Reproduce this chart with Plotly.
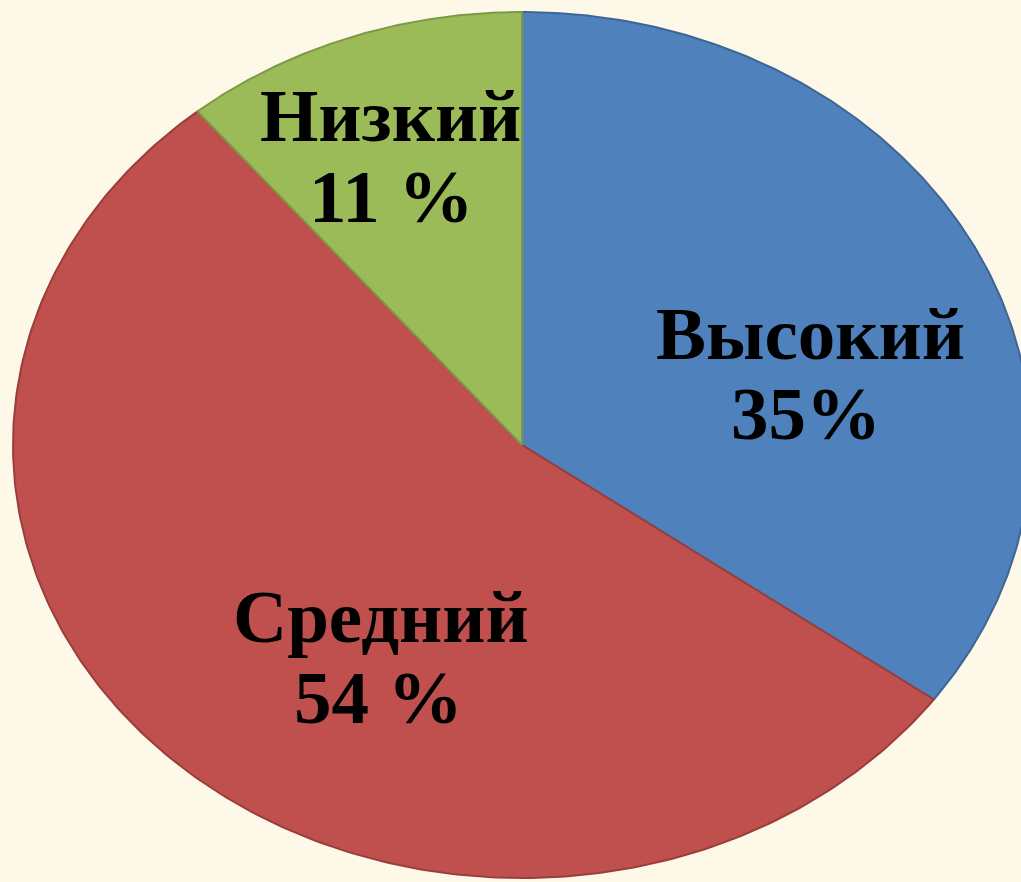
import numpy as np
import plotly.graph_objects as go

# Data
categories = ["Высокий", "Средний", "Низкий"]
values = [35, 54, 11]
value_labels = ["35%", "54 %", "11 %"]

# Styles
fill_colors = ["#4F81BD", "#C0504D", "#9BBB59"]
edge_colors = ["#3E6694", "#9A3E3B", "#7D9946"]
bg = "#FEF8E8"

W, H = 1021, 882
CX, CY, RX, RY = 522, 445, 509, 433  # pixel geometry of the (stretched) pie

fig = go.Figure()

total = float(sum(values))
start = 0.0
for cat, val, fc, ec in zip(categories, values, fill_colors, edge_colors):
    a0 = start / total * 2 * np.pi
    a1 = (start + val) / total * 2 * np.pi
    t = np.linspace(a0, a1, 240)
    xs = np.concatenate([[0.0], np.sin(t), [0.0]])
    ys = np.concatenate([[0.0], np.cos(t), [0.0]])
    fig.add_trace(go.Scatter(
        x=xs, y=ys, mode="lines", fill="toself", fillcolor=fc,
        line=dict(color=ec, width=2), name=cat, hoverinfo="name",
        showlegend=False,
    ))
    start += val

# label placement (pixel centers of each text line)
label_pos = {
    "Высокий": ((810, 333), (806, 413)),
    "Средний": ((381, 616), (378, 697)),
    "Низкий": ((390, 116), (391, 196)),
}
font = dict(family="Liberation Serif, Times New Roman, serif", size=75, color="black")
for cat, vl in zip(categories, value_labels):
    (p1, p2) = label_pos[cat]
    for txt, (px, py) in ((cat, p1), (vl, p2)):
        fig.add_annotation(
            x=px / W, y=1 - py / H, xref="paper", yref="paper",
            text="<b>" + txt + "</b>", showarrow=False,
            xanchor="center", yanchor="middle", font=font,
        )

fig.update_xaxes(range=[-CX / RX, (W - CX) / RX], visible=False, fixedrange=True)
fig.update_yaxes(range=[-(H - CY) / RY, CY / RY], visible=False, fixedrange=True)
fig.update_layout(
    width=W, height=H, margin=dict(l=0, r=0, t=0, b=0),
    paper_bgcolor=bg, plot_bgcolor=bg, showlegend=False,
)

fig.write_html("out.html", config={"displayModeBar": False},
               post_script="document.body.style.margin='0';")
